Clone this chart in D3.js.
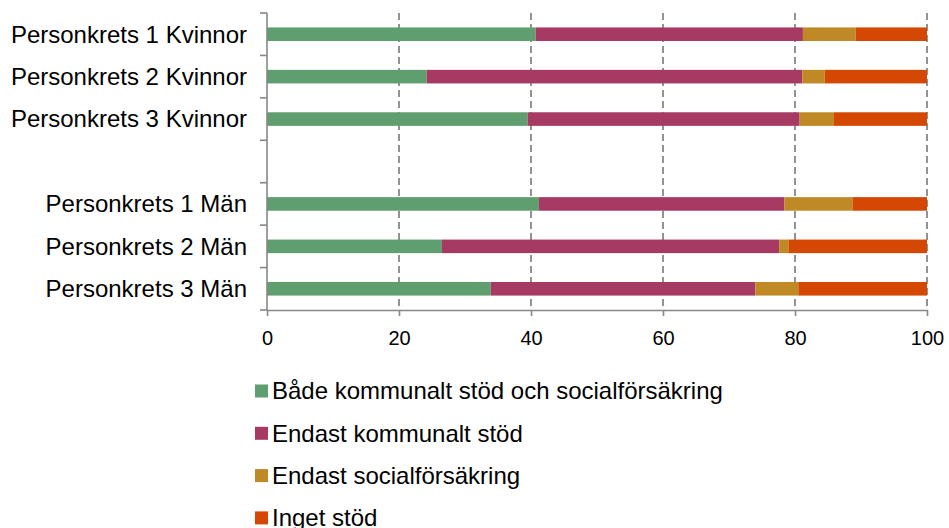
<!DOCTYPE html>
<html>
<head>
<meta charset="utf-8">
<script src="https://cdn.jsdelivr.net/npm/d3@7"></script>
<style>
  body { margin: 0; background: #fff; }
  text { font-family: "Liberation Sans", Arial, sans-serif; fill: #000; }
</style>
</head>
<body>
<div class="chart"></div>
<script>
// categories, top to bottom ('' is the empty gap row)
var categories = ['Personkrets 1 Kvinnor', 'Personkrets 2 Kvinnor', 'Personkrets 3 Kvinnor', '',
  'Personkrets 1 Män', 'Personkrets 2 Män', 'Personkrets 3 Män']

var seriesNames = ['Både kommunalt stöd och socialförsäkring', 'Endast kommunalt stöd',
  'Endast socialförsäkring', 'Inget stöd']

// values per category, same order as categories (null = gap)
var bada = [40.7, 24.2, 39.5, null, 41.2, 26.5, 33.9]
var endastKommunalt = [40.5, 56.9, 41.2, null, 37.2, 51.1, 40.1]
var endastSocial = [8.0, 3.4, 5.2, null, 10.3, 1.4, 6.5]
var ingetStod = [10.8, 15.5, 14.1, null, 11.3, 21.0, 19.5]

var xTicks = [0, 20, 40, 60, 80, 100]

var colors = ['#5f9e6e', '#a63a63', '#bf8a26', '#d44804']

var width = 949
var height = 528
var margin = { top: 13, left: 267, right: 22 }
var plotBottom = 310

var svg = d3.select('.chart')
  .append('svg')
  .attr('width', width)
  .attr('height', height)

var xScale = d3.scaleLinear()
  .domain([0, 100])
  .range([margin.left, width - margin.right])

var yScale = d3.scaleBand()
  .domain(d3.range(categories.length))
  .range([margin.top, plotBottom])
  .paddingInner(0.68)
  .paddingOuter(0.34)

var axisColor = '#878787'

// dashed gridlines
svg.append('g')
  .selectAll('line')
  .data(xTicks.slice(1))
  .enter()
  .append('line')
  .attr('x1', d => xScale(d))
  .attr('x2', d => xScale(d))
  .attr('y1', margin.top)
  .attr('y2', plotBottom)
  .attr('stroke', axisColor)
  .attr('stroke-width', 1.8)
  .attr('stroke-dasharray', '7,4')

// stacked bars
var seriesData = [bada, endastKommunalt, endastSocial, ingetStod]
var table = categories.map((c, i) => {
  var row = { idx: i }
  seriesNames.forEach((s, j) => { row[s] = seriesData[j][i] || 0 })
  return row
}).filter(r => categories[r.idx] !== '')

var stacked = d3.stack().keys(seriesNames)(table)

svg.append('g')
  .selectAll('g')
  .data(stacked)
  .enter()
  .append('g')
  .attr('fill', (d, i) => colors[i])
  .selectAll('rect')
  .data(d => d)
  .enter()
  .append('rect')
  .attr('x', d => xScale(d[0]))
  .attr('width', d => xScale(d[1]) - xScale(d[0]))
  .attr('y', d => yScale(d.data.idx))
  .attr('height', yScale.bandwidth())

// category labels
svg.append('g')
  .selectAll('text')
  .data(categories)
  .enter()
  .append('text')
  .attr('x', 247)
  .attr('y', (d, i) => yScale(i) + yScale.bandwidth() / 2)
  .attr('dy', '0.35em')
  .attr('text-anchor', 'end')
  .attr('font-size', 24)
  .text(d => d)

// y axis line and ticks (category boundaries)
var boundaries = d3.range(categories.length + 1)
  .map(i => margin.top + i * (plotBottom - margin.top) / categories.length)

svg.append('line')
  .attr('x1', margin.left).attr('x2', margin.left)
  .attr('y1', margin.top).attr('y2', plotBottom)
  .attr('stroke', axisColor).attr('stroke-width', 1.6)

svg.append('g')
  .selectAll('line')
  .data(boundaries)
  .enter()
  .append('line')
  .attr('x1', margin.left - 7).attr('x2', margin.left)
  .attr('y1', d => d).attr('y2', d => d)
  .attr('stroke', axisColor).attr('stroke-width', 1.6)

// x axis
var xAxis = d3.axisBottom(xScale)
  .tickValues(xTicks)
  .tickSize(6)
  .tickSizeOuter(0)

var gx = svg.append('g')
  .attr('transform', 'translate(0,' + plotBottom + ')')
  .call(xAxis)

gx.select('.domain').attr('stroke', axisColor).attr('stroke-width', 1.6)
gx.selectAll('.tick line').attr('stroke', axisColor).attr('stroke-width', 1.6)
gx.selectAll('.tick text')
  .attr('font-size', 20)
  .attr('font-family', '"Liberation Sans", Arial, sans-serif')
  .attr('fill', '#000')
  .attr('y', 21)

// legend
var legend = svg.append('g')
  .selectAll('g')
  .data(seriesNames)
  .enter()
  .append('g')
  .attr('transform', (d, i) => 'translate(255,' + (391 + i * 42.3) + ')')

legend.append('rect')
  .attr('x', 0)
  .attr('y', -6.5)
  .attr('width', 13)
  .attr('height', 13)
  .attr('fill', (d, i) => colors[i])

legend.append('text')
  .attr('x', 17)
  .attr('y', 0)
  .attr('dy', '0.35em')
  .attr('font-size', 24)
  .text(d => d)
</script>
</body>
</html>
